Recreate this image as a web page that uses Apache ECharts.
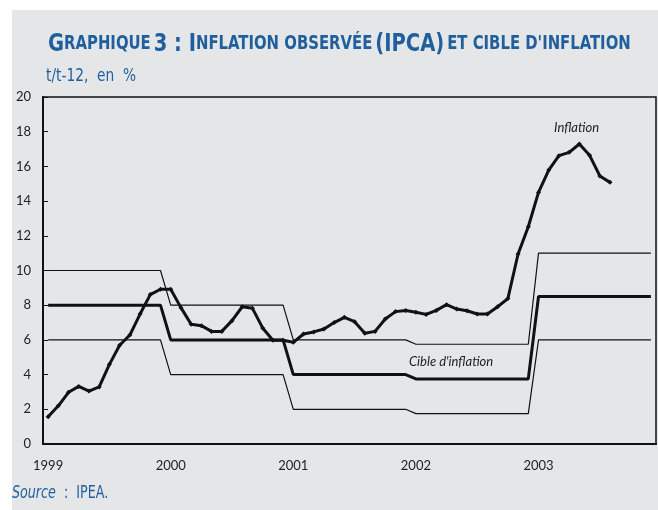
<!DOCTYPE html>
<html style="height: 100%">
<head>
    <meta charset="utf-8">
    <title>Inflation observée et cible</title>
    <script src="https://cdn.jsdelivr.net/npm/echarts@6/dist/echarts.min.js"></script>
</head>
<body style="height: 100%; margin: 0; background: #ffffff">
<div id="main" style="width: 658px; height: 510px"></div>
<script type="text/javascript">

    // années et mois (axe des x)
    var years = ['1999', '2000', '2001', '2002', '2003'];
    var months = ['01', '02', '03', '04', '05', '06', '07', '08', '09', '10', '11', '12'];

    // IPCA, glissement sur 12 mois, janv. 1999 - août 2003
    var inflation = [
        1.57, 2.20, 2.98, 3.32, 3.05, 3.29, 4.59, 5.69, 6.28, 7.49, 8.61, 8.92,
        8.92, 7.86, 6.90, 6.82, 6.49, 6.49, 7.11, 7.91, 7.82, 6.69, 5.98, 5.98,
        5.86, 6.34, 6.46, 6.63, 7.00, 7.30, 7.05, 6.38, 6.49, 7.20, 7.63, 7.70,
        7.59, 7.47, 7.70, 8.03, 7.78, 7.68, 7.49, 7.49, 7.91, 8.38, 10.95, 12.52,
        14.50, 15.79, 16.62, 16.81, 17.29, 16.64, 15.45, 15.08
    ];

    // cible d'inflation par année, avec bornes haute et basse
    var cibleCentre = [8, 6, 4, 3.75, 8.5];
    var cibleHaute = [10, 8, 6, 5.75, 11];
    var cibleBasse = [6, 4, 2, 1.75, 6];

    var categories = [];
    years.forEach(function (y) {
        months.forEach(function (m) { categories.push(y + '-' + m); });
    });

    // une valeur de janvier à décembre pour chaque année
    function palier(vals) {
        var out = [];
        years.forEach(function (y, i) {
            out.push([y + '-01', vals[i]]);
            out.push([y + '-12', vals[i]]);
        });
        return out;
    }

    var bleu = '#1f5f9e';
    var police = '"DejaVu Sans Condensed", "DejaVu Sans", sans-serif';
    var myChart = echarts.init(document.getElementById('main'));

    var option = {
        backgroundColor: '#ffffff',
        animation: false,
        graphic: [
            {
                type: 'rect', left: 12, top: 10, z: -10,
                shape: { width: 646, height: 500 },
                style: { fill: '#e5e6e8' }
            },
            {
                type: 'text', x: 48, y: 32, scaleX: 0.87,
                style: {
                    text: '{a|G}{b|RAPHIQUE} {a|3 : I}{b|NFLATION OBSERVÉE} {a|(IPCA)} {b|ET CIBLE D\'INFLATION}',
                    rich: {
                        a: { fontFamily: police, fontWeight: 'bold', fontSize: 25, fill: bleu },
                        b: { fontFamily: police, fontWeight: 'bold', fontSize: 19, fill: bleu }
                    }
                }
            },
            {
                type: 'text', x: 46, y: 68, scaleX: 0.9,
                style: { text: 't/t-12,  en  %', fill: bleu, fontSize: 17, fontFamily: police }
            },
            {
                type: 'text', x: 12, y: 485, scaleX: 0.83,
                style: {
                    text: '{i|Source}  :  IPEA.',
                    fill: bleu, fontSize: 17, fontFamily: police,
                    rich: { i: { fontStyle: 'italic', fontSize: 17, fill: bleu, fontFamily: police } }
                }
            },
            {
                type: 'text', left: 554, top: 121,
                style: { text: 'Inflation', fill: '#222', fontSize: 13, fontStyle: 'italic', fontFamily: 'Lato, sans-serif' }
            },
            {
                type: 'text', left: 409, top: 355,
                style: { text: 'Cible d\'inflation', fill: '#222', fontSize: 13, fontStyle: 'italic', fontFamily: 'Lato, sans-serif' }
            }
        ],
        grid: {
            left: 43, right: 2, top: 97, bottom: 66,
            show: true, borderColor: '#111', borderWidth: 1.5, backgroundColor: 'transparent'
        },
        xAxis: {
            type: 'category',
            data: categories,
            boundaryGap: true,
            axisLine: { lineStyle: { color: '#111', width: 2 } },
            axisTick: { inside: true, length: 5, interval: 11, lineStyle: { color: '#111' } },
            axisLabel: {
                interval: 11, margin: 15, color: '#222', fontSize: 13, fontFamily: 'Lato, sans-serif',
                formatter: function (v) { return v.slice(0, 4); }
            },
            splitLine: { show: false }
        },
        yAxis: {
            type: 'value',
            min: 0, max: 20, interval: 2,
            axisLine: { show: true, lineStyle: { color: '#111', width: 2 } },
            axisTick: { show: true, inside: true, length: 5, lineStyle: { color: '#111' } },
            axisLabel: { margin: 12, color: '#222', fontSize: 13, fontFamily: 'Lato, sans-serif' },
            splitLine: { show: false }
        },
        series: [
            {
                name: 'Cible haute', type: 'line', data: palier(cibleHaute),
                symbol: 'none', lineStyle: { color: '#111', width: 1.2 }
            },
            {
                name: 'Cible basse', type: 'line', data: palier(cibleBasse),
                symbol: 'none', lineStyle: { color: '#111', width: 1.2 }
            },
            {
                name: 'Cible d\'inflation', type: 'line', data: palier(cibleCentre),
                symbol: 'none', lineStyle: { color: '#111', width: 3 }
            },
            {
                name: 'Inflation', type: 'line', data: inflation,
                symbol: 'diamond', symbolSize: 5,
                itemStyle: { color: '#111' },
                lineStyle: { color: '#111', width: 3 }, z: 5
            }
        ]
    };

    myChart.setOption(option);
</script>
</body>
</html>
